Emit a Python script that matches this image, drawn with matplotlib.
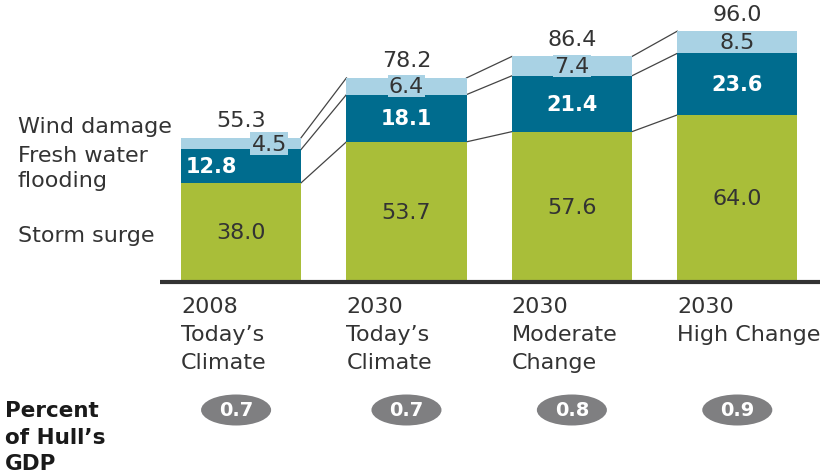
import matplotlib
matplotlib.use("Agg")
import matplotlib.pyplot as plt
from matplotlib.patches import Ellipse
from matplotlib.transforms import blended_transform_factory

categories = ["2008\nToday\u2019s\nClimate", "2030\nToday\u2019s\nClimate",
              "2030\nModerate\nChange", "2030\nHigh Change"]
storm_surge = [38.0, 53.7, 57.6, 64.0]
fresh_water = [12.8, 18.1, 21.4, 23.6]
wind_damage = [4.5, 6.4, 7.4, 8.5]
totals = [55.3, 78.2, 86.4, 96.0]
gdp_pct = ["0.7", "0.7", "0.8", "0.9"]

GREEN = "#A9BE39"
TEAL = "#006C8E"
LIGHT = "#A9D2E4"
DARK = "#333333"

plt.rcParams['font.family'] = ['DejaVu Sans']

fig = plt.figure(figsize=(8.38, 4.77), dpi=100)
ax = fig.add_axes([160/838, (477-283)/477, 660/838, 283/477])
ax.set_xlim(-0.49, 3.50)
ax.set_ylim(0, 283/2.61)
ax.axis("off")

x = list(range(len(categories)))
w = 0.726
b2 = storm_surge
b3 = [s + f for s, f in zip(storm_surge, fresh_water)]
ax.bar(x, storm_surge, w, color=GREEN, zorder=2)
ax.bar(x, fresh_water, w, bottom=b2, color=TEAL, zorder=2)
ax.bar(x, wind_damage, w, bottom=b3, color=LIGHT, zorder=2)

# baseline
ax.plot([-0.49, 3.50], [0, 0], color=DARK, lw=3, clip_on=False, zorder=3,
        solid_capstyle="butt")

# connector lines
tops = [storm_surge, b3, [a + b for a, b in zip(b3, wind_damage)]]
for i in range(len(x) - 1):
    for t in tops:
        ax.plot([x[i] + w/2, x[i+1] - w/2], [t[i], t[i+1]], color="#444444",
                lw=0.9, zorder=1)

fs = 16
for i in x:
    ax.text(i, storm_surge[i]/2, f"{storm_surge[i]:.1f}", ha="center", va="center",
            fontsize=fs, color=DARK, zorder=4)
    dx = -0.18 if i == 0 else 0
    ax.text(i + dx, b2[i] + fresh_water[i]/2, f"{fresh_water[i]:.1f}", ha="center",
            va="center", fontsize=15, color="white", fontweight="bold", zorder=4)
    dx = 0.17 if i == 0 else 0
    ax.text(i + dx, b3[i] + wind_damage[i]/2, f"{wind_damage[i]:.1f}", ha="center",
            va="center", fontsize=fs, color=DARK, zorder=4,
            bbox=dict(boxstyle="square,pad=0.05", fc=LIGHT, ec="none"))
    ax.text(i, totals[i] + 3.0, f"{totals[i]:.1f}", ha="center", va="bottom",
            fontsize=fs, color=DARK, zorder=4)
    ax.text(i - w/2, -5.5, categories[i], ha="left", va="top", fontsize=fs,
            color=DARK, linespacing=1.5)

# series labels on the left
fig.text(18/838, 1 - 127/477, "Wind damage", ha="left", va="center", fontsize=fs, color=DARK)
fig.text(18/838, 1 - 168.5/477, "Fresh water\nflooding", ha="left", va="center",
         fontsize=fs, color=DARK, linespacing=1.35)
fig.text(18/838, 1 - 236/477, "Storm surge", ha="left", va="center", fontsize=fs, color=DARK)

# GDP row
fig.text(5/838, 1 - 437.5/477, "Percent\nof Hull\u2019s\nGDP", ha="left", va="center",
         fontsize=15.5, fontweight="bold", color="#1a1a1a", linespacing=1.4)
tr = blended_transform_factory(ax.transData, fig.transFigure)
for i in x:
    cx = i - (0.03 if i == 0 else 0)
    e = Ellipse((cx, 1 - 411/477), 70/165.3, 31/477, transform=tr, fc="#7F7F81",
                ec="none", clip_on=False)
    fig.add_artist(e)
    fig.text(cx, 1 - 411/477, gdp_pct[i], transform=tr, ha="center", va="center",
             fontsize=14, fontweight="bold", color="white")

fig.savefig("out.png", dpi=100)
